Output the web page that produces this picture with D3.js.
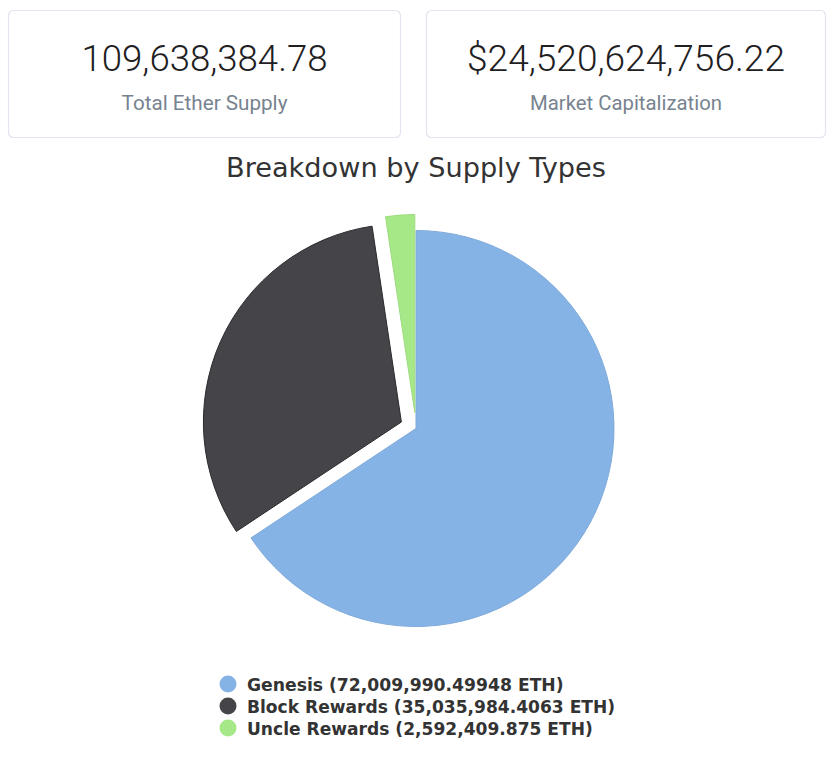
<!DOCTYPE html>
<html>
<head>
<meta charset="utf-8">
<script src="https://cdn.jsdelivr.net/npm/d3@7"></script>
<style>
  body { margin: 0; background: #fff; }
</style>
</head>
<body>
<script>
// card values
var cardValues = ["109,638,384.78", "$24,520,624,756.22"];
var cardLabels = ["Total Ether Supply", "Market Capitalization"];

// pie data
var categories = ["Genesis", "Block Rewards", "Uncle Rewards"];
var supply = [72009990.49948, 35035984.4063, 2592409.875];
var supplyLabels = ["72,009,990.49948", "35,035,984.4063", "2,592,409.875"];
var sliced = [false, true, true];
var colors = ["#86b3e6", "#444449", "#a6e887"];

var W = 834, H = 768;

var svg = d3.select("body").append("svg")
    .attr("width", W)
    .attr("height", H);

// shrink/grow a text so it is as wide as the picture's text
function fitText(t, width) {
    var node = t.node();
    var size = parseFloat(t.attr("font-size"));
    var len = node.getComputedTextLength();
    if (len > 0) t.attr("font-size", (size * width / len).toFixed(2));
}

// ---- cards ----
var cards = [
    {x: 8.5, w: 392, numW: 246, labW: 166},
    {x: 426.5, w: 399, numW: 318, labW: 192}
];

cards.forEach(function (c, i) {
    var g = svg.append("g").attr("transform", "translate(" + c.x + ",10.5)");
    g.append("rect")
        .attr("width", c.w)
        .attr("height", 127)
        .attr("rx", 5)
        .attr("fill", "#fff")
        .attr("stroke", "#e3e4ef")
        .attr("stroke-width", 1.2);

    var num = g.append("text")
        .attr("x", c.w / 2)
        .attr("y", 60)
        .attr("text-anchor", "middle")
        .attr("font-family", "Roboto")
        .attr("font-weight", 300)
        .attr("font-size", 36)
        .attr("fill", "#1e2022")
        .text(cardValues[i]);
    fitText(num, c.numW);

    var lab = g.append("text")
        .attr("x", c.w / 2)
        .attr("y", 99.5)
        .attr("text-anchor", "middle")
        .attr("font-family", "Roboto")
        .attr("font-size", 19)
        .attr("fill", "#77838f")
        .text(cardLabels[i]);
    fitText(lab, c.labW);
});

// ---- title ----
var title = svg.append("text")
    .attr("x", 416)
    .attr("y", 177)
    .attr("text-anchor", "middle")
    .attr("font-family", "DejaVu Sans")
    .attr("font-size", 24)
    .attr("fill", "#333333")
    .text("Breakdown by Supply Types");
fitText(title, 380);

// ---- pie ----
var cx = 416, cy = 428.5, radius = 198, offset = 16;

var pie = d3.pie().sort(null).value(function (d) { return d; });
var arc = d3.arc().innerRadius(0).outerRadius(radius);
var arcs = pie(supply);

var pieG = svg.append("g").attr("transform", "translate(" + cx + "," + cy + ")");

pieG.selectAll("path")
    .data(arcs)
    .enter()
    .append("path")
    .attr("d", arc)
    .attr("fill", function (d, i) { return colors[i]; })
    .attr("stroke", function (d, i) { return i == 1 ? "#2a2a2e" : d3.color(colors[i]).darker(0.15); })
    .attr("stroke-width", 1)
    .attr("stroke-linejoin", "round")
    .attr("transform", function (d, i) {
        if (!sliced[i]) return null;
        var a = (d.startAngle + d.endAngle) / 2;
        return "translate(" + (Math.sin(a) * offset) + "," + (-Math.cos(a) * offset) + ")";
    });

// ---- legend ----
var legend = svg.append("g");
var rowWidths = [317, 368, 346];

categories.forEach(function (name, i) {
    var y = 684 + i * 22;
    legend.append("circle")
        .attr("cx", 228)
        .attr("cy", y)
        .attr("r", 8.5)
        .attr("fill", colors[i]);
    var t = legend.append("text")
        .attr("x", 247)
        .attr("y", y + 7)
        .attr("font-family", "DejaVu Sans")
        .attr("font-weight", "bold")
        .attr("font-size", 17)
        .attr("fill", "#333333")
        .text(name + " (" + supplyLabels[i] + " ETH)");
    fitText(t, rowWidths[i]);
});
</script>
</body>
</html>
